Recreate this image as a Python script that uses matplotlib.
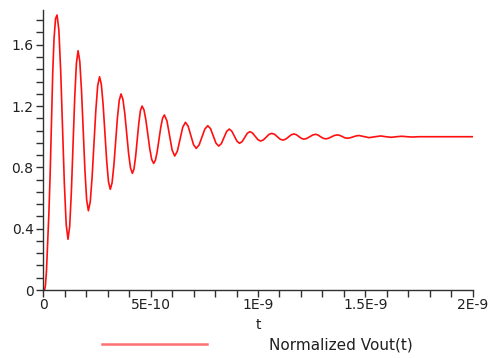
import matplotlib
matplotlib.use("Agg")
import matplotlib.pyplot as plt
from matplotlib.ticker import MultipleLocator, FixedLocator

plt.rcParams['font.family'] = ['DejaVu Sans']

# time in units of 1E-10 s
t_e10 = [
    0.0, 0.06, 0.10, 0.15, 0.20, 0.26, 0.32, 0.38, 0.44, 0.50, 0.57, 0.64,
    0.725, 0.81, 0.895, 0.98, 1.065, 1.15,
    1.228, 1.307, 1.385, 1.463, 1.542, 1.62,
    1.70, 1.78, 1.86, 1.94, 2.02, 2.10,
    2.187, 2.273, 2.36, 2.447, 2.533, 2.62,
    2.703, 2.787, 2.87, 2.953, 3.037, 3.12,
    3.203, 3.287, 3.37, 3.453, 3.537, 3.62,
    3.708, 3.797, 3.885, 3.973, 4.062, 4.15,
    4.225, 4.30, 4.375, 4.45, 4.525, 4.60,
    4.69, 4.78, 4.87, 4.96, 5.05, 5.14,
    5.223, 5.307, 5.39, 5.473, 5.557, 5.64,
    5.76, 5.88, 6.00, 6.12,
    6.245, 6.37, 6.495, 6.62,
    6.745, 6.87, 6.995, 7.12,
    7.255, 7.39, 7.525, 7.66,
    7.788, 7.915, 8.043, 8.17,
    8.293, 8.415, 8.538, 8.66,
    8.78, 8.90, 9.02, 9.14,
    9.26, 9.38, 9.50, 9.62,
    9.745, 9.87, 9.995, 10.12,
    10.25, 10.38, 10.51, 10.64,
    10.77, 10.90, 11.03, 11.16,
    11.288, 11.415, 11.543, 11.67,
    11.788, 11.905, 12.023, 12.14,
    12.275, 12.41, 12.545, 12.68,
    12.798, 12.915, 13.033, 13.15,
    13.285, 13.42, 13.555, 13.69,
    13.808, 13.925, 14.043, 14.16,
    14.295, 14.43, 14.565, 14.70,
    14.935, 15.17, 15.44, 15.71, 15.955, 16.20, 16.45, 16.70, 16.945, 17.19,
    17.5, 20.0,
]
vout = [
    0.0, 0.0, 0.03, 0.13, 0.30, 0.50, 0.76, 1.10, 1.42, 1.64, 1.77, 1.794,
    1.696, 1.428, 1.063, 0.697, 0.429, 0.331,
    0.413, 0.639, 0.946, 1.254, 1.479, 1.561,
    1.491, 1.300, 1.039, 0.778, 0.587, 0.517,
    0.576, 0.736, 0.954, 1.173, 1.332, 1.391,
    1.342, 1.208, 1.024, 0.841, 0.706, 0.657,
    0.699, 0.813, 0.968, 1.124, 1.237, 1.279,
    1.244, 1.150, 1.020, 0.891, 0.796, 0.761,
    0.790, 0.871, 0.981, 1.090, 1.171, 1.200,
    1.175, 1.107, 1.013, 0.920, 0.851, 0.826,
    0.847, 0.905, 0.984, 1.063, 1.121, 1.142,
    1.103, 1.008, 0.913, 0.874,
    0.906, 0.984, 1.062, 1.094,
    1.069, 1.009, 0.949, 0.924,
    0.946, 0.998, 1.050, 1.072,
    1.053, 1.006, 0.958, 0.939,
    0.955, 0.995, 1.034, 1.050,
    1.036, 1.004, 0.971, 0.957,
    0.968, 0.995, 1.022, 1.033,
    1.024, 1.003, 0.981, 0.972,
    0.979, 0.997, 1.015, 1.022,
    1.016, 1.000, 0.984, 0.978,
    0.984, 0.998, 1.012, 1.018,
    1.013, 1.001, 0.989, 0.984,
    0.989, 1.000, 1.011, 1.016,
    1.011, 1.000, 0.990, 0.986,
    0.990, 0.999, 1.008, 1.012,
    1.009, 1.001, 0.993, 0.990,
    0.993, 0.999, 1.005, 1.008,
    1.001, 0.994, 0.9995, 1.005, 1.000, 0.996, 1.000, 1.003, 1.000, 0.998,
    1.000, 1.000,
]
x_ticks = [0.0, 5e-10, 1e-9, 1.5e-9, 2e-9]
x_tick_labels = ['0', '5E-10', '1E-9', '1.5E-9', '2E-9']
y_ticks = [0.0, 0.4, 0.8, 1.2, 1.6]
y_tick_labels = ['0', '0.4', '0.8', '1.2', '1.6']
series_label = 'Normalized Vout(t)'

t = [v * 1e-10 for v in t_e10]

W, H = 492, 358
FS = 10
LFS = 11
fig = plt.figure(figsize=(W / 100, H / 100), dpi=100)
ax = fig.add_axes([43.3 / W, (H - 290) / H, (472.7 - 43.3) / W, (290 - 9.5) / H])

line, = ax.plot(t, vout, color='#ff1010', lw=1.2, label=series_label)

ax.set_xlim(0, 2e-9)
ax.set_ylim(0, 1.83)
for s in ('top', 'right'):
    ax.spines[s].set_visible(False)
for s in ('left', 'bottom'):
    ax.spines[s].set_color('#303030')
    ax.spines[s].set_linewidth(1.0)

ax.xaxis.set_major_locator(FixedLocator(x_ticks))
ax.set_xticklabels(x_tick_labels)
ax.xaxis.set_minor_locator(MultipleLocator(1e-10))
ax.yaxis.set_major_locator(FixedLocator(y_ticks))
ax.set_yticklabels(y_tick_labels)
ax.yaxis.set_minor_locator(MultipleLocator(0.08))
ax.tick_params(which='both', direction='out', length=5, width=1.0, color='#303030',
               labelsize=FS, labelcolor='#202020')
ax.tick_params(axis='x', which='major', pad=1)
ax.tick_params(axis='y', which='major', pad=2)

ax.set_xlabel('t', fontsize=FS, color='#202020', labelpad=4)

fs_px = LFS * 100 / 72
leg = fig.legend(handles=[line], loc='center left', bbox_to_anchor=(102 / W, 13 / H),
                 frameon=False, fontsize=LFS, handlelength=105 / fs_px,
                 handletextpad=62 / fs_px, borderpad=0, borderaxespad=0)
for txt in leg.get_texts():
    txt.set_color('#202020')
leg.get_lines()[0].set_color('#ff7070')
leg.get_lines()[0].set_linewidth(1.8)

fig.savefig('out.png', dpi=100)
